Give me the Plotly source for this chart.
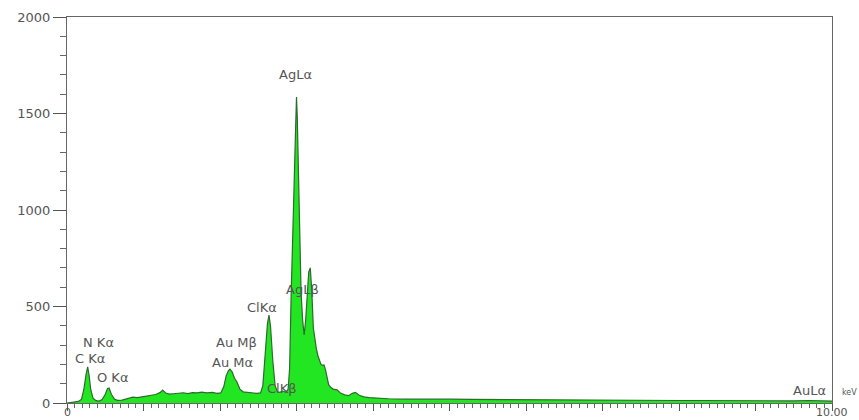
import plotly.graph_objects as go

energy_kev = [0.00, 0.05, 0.10, 0.15, 0.19, 0.22, 0.25, 0.27, 0.29, 0.31, 0.34, 0.38, 0.42, 0.46, 0.50,
              0.53, 0.55, 0.58, 0.62, 0.66, 0.72, 0.80, 0.86, 0.92, 0.98, 1.04, 1.10, 1.16, 1.22, 1.25,
              1.29, 1.34, 1.39, 1.45, 1.52, 1.58, 1.64, 1.70, 1.76, 1.83, 1.90, 1.96, 2.01, 2.05, 2.08,
              2.11, 2.13, 2.16, 2.19, 2.22, 2.26, 2.30, 2.36, 2.42, 2.48, 2.53, 2.56, 2.59, 2.62, 2.64,
              2.66, 2.69, 2.72, 2.75, 2.78, 2.82, 2.86, 2.89, 2.91, 2.93, 2.95, 2.97, 2.99, 3.00, 3.01,
              3.03, 3.05, 3.06, 3.08, 3.10, 3.12, 3.14, 3.16, 3.18, 3.20, 3.22, 3.24, 3.26, 3.28, 3.30,
              3.32, 3.34, 3.36, 3.38, 3.40, 3.42, 3.45, 3.48, 3.53, 3.58, 3.63, 3.68, 3.73, 3.77, 3.82,
              3.88, 3.95, 4.05, 4.20, 4.40, 4.60, 4.80, 5.00, 5.30, 5.60, 5.90, 6.20, 6.50, 6.80, 7.10,
              7.40, 7.70, 8.00, 8.30, 8.60, 8.90, 9.20, 9.50, 9.70, 9.85, 10.00]

counts = [0, 3, 6, 8, 20, 70, 150, 187, 140, 70, 25, 12, 10, 18, 45,
          75, 78, 45, 20, 14, 15, 22, 30, 28, 34, 36, 40, 44, 55, 67,
          52, 46, 48, 50, 53, 49, 54, 52, 56, 52, 55, 50, 52, 85, 140,
          168, 175, 160, 128, 110, 72, 58, 55, 52, 50, 52, 90, 250, 410, 456,
          400, 220, 90, 58, 55, 62, 56, 70, 180, 560, 800, 1150, 1450, 1585, 1480,
          1090, 700, 570, 430, 352, 430, 580, 680, 700, 580, 390, 320, 280, 245, 222,
          200, 195, 197, 170, 130, 95, 80, 72, 68, 50, 42, 38, 50, 55, 40,
          32, 28, 25, 22, 20, 21, 19, 20, 19, 18, 18, 17, 16, 16, 15,
          14, 14, 13, 13, 12, 12, 11, 11, 13, 11, 10]

peak_labels = ["AgLα", "AgLβ", "ClKα", "ClKβ", "Au Mβ", "Au Mα", "N Kα", "C Kα", "O Kα", "AuLα"]
label_x = [2.99, 3.08, 2.55, 2.81, 2.21, 2.16, 0.41, 0.30, 0.59, 9.71]
label_y = [1700, 590, 497, 73, 311, 212, 316, 233, 130, 67]

x_tick_vals = list(range(0, 11))
x_end_labels = ["0", "10.00"]
x_end_vals = [0, 10]
y_tick_vals = [0, 500, 1000, 1500, 2000]
y_tick_text = ["0", "500", "1000", "1500", "2000"]

fig = go.Figure()
fig.add_trace(go.Scatter(
    x=energy_kev, y=counts, mode="lines", fill="tozeroy",
    fillcolor="#22e622", line=dict(color="#2d6b2d", width=1.2),
    hoverinfo="skip", showlegend=False))

for t, xv, yv in zip(peak_labels, label_x, label_y):
    fig.add_annotation(x=xv, y=yv, text=t, showarrow=False, xref="x", yref="y",
                       font=dict(family="DejaVu Sans", size=13, color="#555555"))

for t, xv in zip(x_end_labels, x_end_vals):
    fig.add_annotation(x=xv, y=0, xref="x", yref="paper", text=t, showarrow=False,
                       yanchor="top", yshift=-1, xanchor="center",
                       font=dict(family="DejaVu Sans", size=11, color="#555555"))

fig.add_annotation(x=1.011, y=52, xref="paper", yref="y", text="keV", showarrow=False,
                   xanchor="left", font=dict(family="DejaVu Sans", size=8, color="#555555"))

fig.update_layout(
    width=859, height=420,
    margin=dict(l=67, r=27, t=17, b=17),
    paper_bgcolor="white", plot_bgcolor="white",
    font=dict(family="DejaVu Sans", color="#555555"),
    xaxis=dict(range=[0, 10], tickmode="array", tickvals=x_tick_vals, showticklabels=False,
               ticks="outside", ticklen=7, tickcolor="#555555", showgrid=False, zeroline=False,
               showline=True, linecolor="#666666", linewidth=1, mirror=True, automargin=False,
               minor=dict(tickmode="linear", tick0=0, dtick=0.1, ticks="outside", ticklen=4,
                          tickcolor="#666666", showgrid=False)),
    yaxis=dict(range=[0, 2000], tickmode="array", tickvals=y_tick_vals, ticktext=y_tick_text,
               ticks="outside", ticklen=13, tickcolor="#555555", showgrid=False, zeroline=False,
               showline=True, linecolor="#666666", linewidth=1, mirror=True, automargin=False,
               tickfont=dict(size=13, color="#555555"),
               minor=dict(tickmode="linear", tick0=0, dtick=100, ticks="outside", ticklen=6,
                          tickcolor="#666666", showgrid=False)),
)

fig.write_html("out.html", config={"displayModeBar": False},
               post_script="document.body.style.margin='0';document.body.style.overflow='hidden';")
